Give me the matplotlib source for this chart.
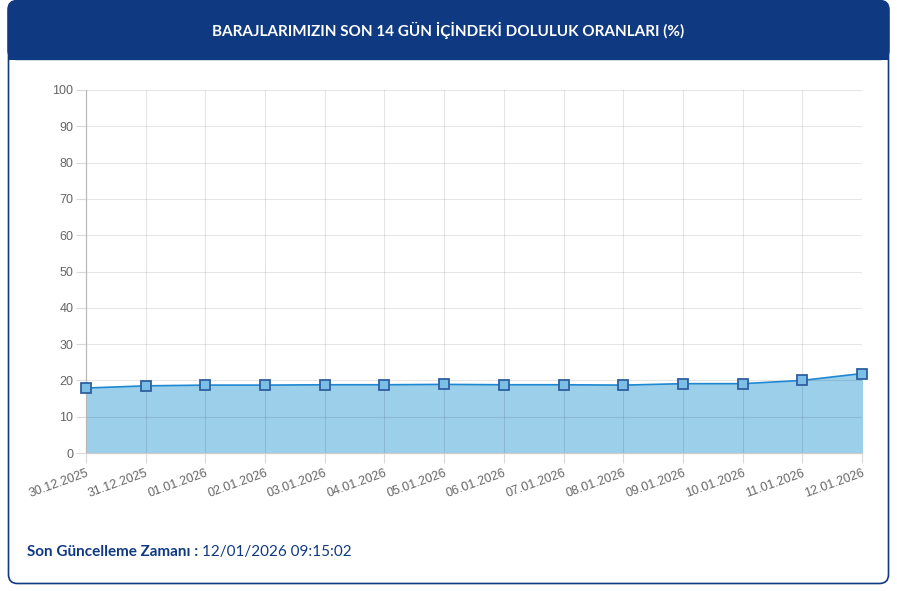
import matplotlib
matplotlib.use('Agg')
import matplotlib.pyplot as plt
from matplotlib.patches import FancyBboxPatch, Rectangle

dates = ['30.12.2025', '31.12.2025', '01.01.2026', '02.01.2026', '03.01.2026',
         '04.01.2026', '05.01.2026', '06.01.2026', '07.01.2026', '08.01.2026',
         '09.01.2026', '10.01.2026', '11.01.2026', '12.01.2026']
fill_rates = [17.9, 18.5, 18.7, 18.7, 18.8, 18.8, 18.9, 18.8, 18.8, 18.7,
              19.1, 19.1, 20.0, 21.9]
y_ticks = list(range(0, 101, 10))

title = 'BARAJLARIMIZIN SON 14 GÜN İÇİNDEKİ DOLULUK ORANLARI (%)'
updated_label = 'Son Güncelleme Zamanı :'
updated_value = '12/01/2026 09:15:02'

navy = '#0f3a82'
W, H = 897, 591

fig = plt.figure(figsize=(W / 100, H / 100), dpi=100)

# background "card" in pixel coordinates
bg = fig.add_axes([0, 0, 1, 1], zorder=0)
bg.set_xlim(0, W)
bg.set_ylim(H, 0)
bg.axis('off')
bg.add_patch(FancyBboxPatch((8.5, 1), 880, 582.5, boxstyle='round,pad=0,rounding_size=9',
                            fc='white', ec=navy, lw=1.2))
bg.add_patch(FancyBboxPatch((8, 0.5), 881, 59, boxstyle='round,pad=0,rounding_size=9',
                            fc=navy, ec=navy, lw=1))
bg.add_patch(Rectangle((8, 40), 881, 20, fc=navy, ec='none'))
bg.text(448, 30, title, color='white', fontsize=11, fontweight='bold',
        family='Lato', ha='center', va='center')
t1 = bg.text(27, 552, updated_label, color=navy, fontsize=11, fontweight='bold',
             family='Lato', ha='left', va='center')
fig.canvas.draw()
bb = t1.get_window_extent()
bg.text(bb.x1 + 4, 552, updated_value, color=navy, fontsize=11,
        family='Lato', ha='left', va='center')

# chart
ax = fig.add_axes([86 / W, 1 - 453 / H, (862 - 86) / W, (453 - 90) / H], zorder=1)
ax.patch.set_alpha(0)
x = list(range(len(dates)))
ax.fill_between(x, fill_rates, 0, color='#9bcfea', zorder=1)
ax.plot(x, fill_rates, color='#1f88d2', lw=1.2, zorder=3)
ax.plot(x, fill_rates, ls='none', marker='s', ms=6.5, mfc='#7cbfe6', mec='#2f5f9f',
        mew=1.3, zorder=4, clip_on=False)

ax.set_xlim(0, len(dates) - 1)
ax.set_ylim(0, 100)
ax.set_yticks(y_ticks)
ax.set_xticks(x)
ax.set_xticklabels(dates, rotation=20, ha='right', rotation_mode='anchor',
                   family='Liberation Sans')
for lbl in ax.get_yticklabels():
    lbl.set_family('Liberation Sans')
ax.set_axisbelow(False)
ax.grid(True, color='black', alpha=0.1, lw=0.8)
ax.tick_params(axis='both', colors='#d9d9d9', length=7, width=0.8,
               labelcolor='#666666', labelsize=9)
ax.tick_params(axis='x', pad=3)
ax.tick_params(axis='y', pad=2)
for side in ['top', 'right']:
    ax.spines[side].set_visible(False)
for side in ['left', 'bottom']:
    ax.spines[side].set_color('#cccccc')
    ax.spines[side].set_linewidth(0.9)

fig.savefig('out.png', dpi=100)
